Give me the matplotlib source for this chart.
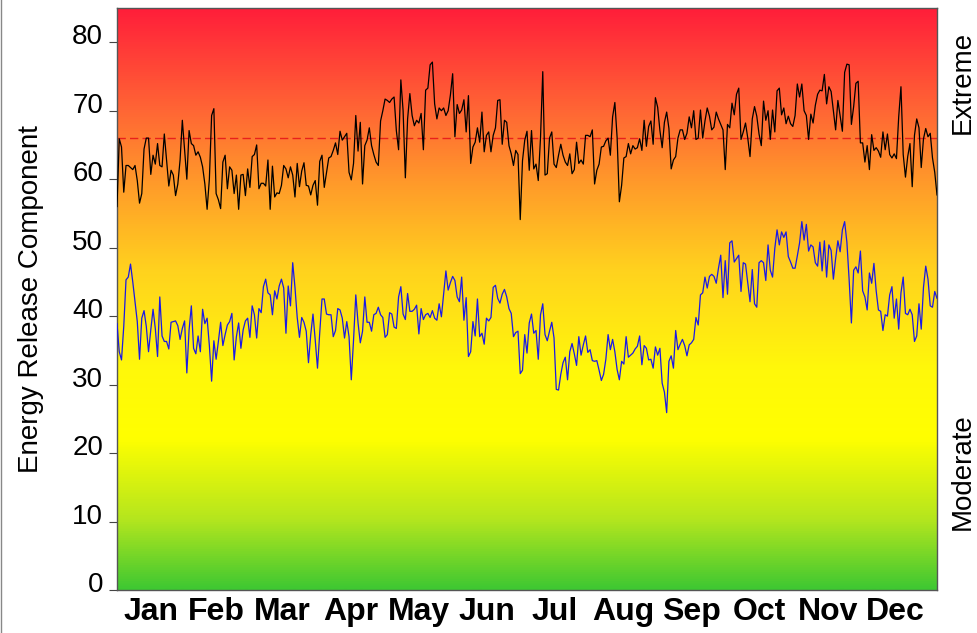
import numpy as np
import matplotlib
matplotlib.use("Agg")
import matplotlib.pyplot as plt
import matplotlib.transforms as mtrans
from matplotlib.colors import LinearSegmentedColormap
from matplotlib.lines import Line2D

# daily values, Jan 1 .. Dec 31
erc_black = [
    56, 65.9, 64.7, 58.1, 62, 62, 61.7, 61.4, 62, 59.8, 56.5, 57.9, 64.4, 66, 66, 60.7,
    63.5, 62.2, 65.2, 62, 61.8, 66.6, 62.8, 59, 61.3, 60.6, 57.6, 59.3, 62.8, 68.6, 64.2, 60,
    67.1, 65.2, 64.9, 63.5, 64, 63.2, 61.8, 59.3, 55.6, 60, 69.3, 70.3, 57.9, 57, 55.7, 62.5,
    63.5, 58.6, 61.8, 61.3, 57.9, 60.6, 55.6, 60.6, 60.7, 57.6, 61.5, 58.8, 63.3, 63.6,
    65, 58.6, 59.4, 59.4, 59, 62.8, 55.6, 61.9, 57.4, 58, 57.9, 59.1, 62, 61.5, 60.2, 61.8,
    60.6, 57.4, 62.3, 58.9, 61.2, 62.4, 59.1, 59, 57.7, 59.1, 59.8, 56.2, 62.6, 63.5, 58.8, 61,
    63.1, 63.3, 64.2, 65.3, 63.6, 67, 65.7, 66.2, 66.7, 61, 59.9, 62.3, 69.3, 64.1, 68.3, 59.3,
    64.9, 65.7, 67.5, 64.9, 63.6, 62.5, 62, 68.5, 70, 71.7, 71.5, 71.2, 71.7,
    72, 67.1, 64.3, 74.5, 70, 60.2, 68.8, 72.5, 69.3, 67.8, 68.6, 68.2, 69.6, 64.3, 73, 73.3,
    76.7, 77.1, 71, 68.8, 70.4, 70, 70.4, 69.3, 70, 72.3, 75.4, 66.2, 70.9, 69.6, 70.1, 71.6,
    66.9, 72.2, 62.3, 64.7, 65.4, 67.5, 65.4, 69.8, 64, 66.4, 66.9, 64, 66.4, 67.5, 71.5, 71.6,
    65.1, 68.6, 68.3, 64.9, 63.7, 62, 64.2, 63.6, 54.1, 62.7, 65.7, 67, 61.3,
    67.1, 61.5, 62.2, 59.8, 66.1, 75.7, 60.6, 60.8, 66, 66.9, 62.2, 61.7, 63.5, 65.1, 63.5, 62.5,
    62, 63.7, 60.8, 61.4, 65.4, 62.3, 62.8, 62.2, 66.4, 66.4, 66.2, 67.2, 59.3, 61.3, 62.2, 64.7,
    64.8, 65.6, 66, 63.5, 69.1, 71.2, 66.1, 56.7, 59.1, 63.1, 63.3, 65.2, 63.7, 64.9, 64.4, 64.6,
    65.9, 64.2, 68.6, 64.8, 67.7, 68.5, 65.1, 71.9, 70.5, 67.1, 64.6, 68.3, 69.8,
    67.4, 61.5, 62.8, 63.3, 66, 67.2, 67.2, 65.8, 66.7, 69.1, 67.5, 70, 65.8, 66, 70.1, 66,
    68.5, 70.4, 69.2, 67.2, 67.6, 69.8, 68.8, 68, 67.2, 61.4, 68, 67.5, 71.1, 69.4, 72.4, 73.3,
    65.8, 66.9, 68.2, 66, 63.3, 68.8, 70.6, 69.2, 66.6, 64.9, 71.4, 68.6, 70, 65.8, 70.1, 66.9,
    72.9, 73.3, 69.4, 70.4, 68.1, 69.2, 68.1, 67.7, 69.3, 73.9, 72, 73.9, 70, 69.3,
    65.8, 69.5, 68.2, 70.8, 72.4, 73, 72.9, 75.3, 71, 73.5, 72.8, 70, 67.2, 71.5, 69.3, 67,
    75.6, 76.8, 76.7, 68, 70.6, 74, 74.3, 65.3, 65.3, 62.5, 64.9, 61.4, 66.5, 64.2, 64.6, 64.1,
    63.2, 66.9, 64.3, 66.6, 63.6, 63.1, 63.7, 63, 69.1, 73.5, 63.6, 60.3, 63.3, 65.2, 58.9, 66.4,
    68.8, 67.5, 61.7, 65.9, 67.4, 66.2, 66.7, 63.1, 61, 57.7,
]

erc_blue = [
    38.9, 34.8, 33.6, 38.5, 45.3, 45.7, 47.6, 45, 42.1, 39.2, 33.7, 39.7, 40.8, 38.5, 34.8, 38,
    41, 38.2, 34.1, 42.8, 37.1, 36.3, 36.3, 35.2, 39.1, 39.2, 39.3, 38.6, 36.6, 38.2, 39.3, 31.7,
    38, 41.5, 35.3, 34.5, 37.1, 34.8, 41, 38.9, 39.7, 35.7, 30.5, 36.4, 33.7, 36.3, 39.1, 35.7,
    37.3, 38.7, 39.2, 40.4, 33.6, 37, 39, 35.3, 38, 39.3, 39.7, 36.9, 41.5, 40.2,
    36.8, 41.1, 40.5, 44.3, 45.4, 43.4, 43.1, 40.2, 43.7, 42.5, 44.4, 45.4, 44.1, 37.5, 44.4, 41.5,
    47.8, 44.2, 39.8, 36.9, 39.8, 39.1, 37.8, 33.2, 37.3, 40.3, 36.5, 32.4, 37.6, 42.5, 42.5, 40.3,
    40.2, 40.2, 37, 37.9, 41.1, 40.9, 39.7, 36.8, 39.2, 37, 30.7, 36.5, 43.1, 39, 36.1, 37.8,
    42.8, 39.1, 39.1, 37.8, 40.2, 40.4, 41.3, 40.2, 39.8, 36.9, 37.3, 40.5, 40.3,
    38.4, 38.2, 42.8, 44.3, 40.3, 39.5, 43.3, 40.7, 40.7, 41, 41.6, 37.4, 41.1, 39.5, 40.2, 40.4,
    39.8, 40.8, 39.7, 39.4, 41.8, 39.9, 43.3, 46.6, 43.8, 44.9, 45.8, 45.2, 42.8, 42.1, 45.7, 39.4,
    42.7, 34.1, 34.8, 39.2, 37.1, 42.5, 37, 37.5, 35.9, 39.7, 39.3, 39.8, 44.2, 44.5, 42.6, 41.9,
    43.2, 43.9, 42.8, 41.1, 40.4, 37, 37.6, 37.8, 31.6, 32.1, 37.3, 34.6, 39,
    40.3, 37.5, 37.9, 33.7, 40.2, 41.8, 37.3, 36.4, 37.8, 39.1, 36.8, 29.3, 29.2, 31.5, 33.2, 34,
    30.7, 34.8, 36, 34.5, 32.8, 37, 34.3, 35.8, 37.1, 34.7, 35.1, 33.5, 33.4, 33.5, 32.1, 30.6,
    31.5, 33.7, 37.3, 35.1, 36.6, 34.8, 32.2, 30.7, 33.4, 33, 37, 34, 34.3, 34.6, 35.2, 35.6,
    37.1, 32.9, 35.7, 35.3, 33.6, 33.7, 32.4, 35.5, 34.3, 35.3, 30.2, 28.9, 25.9,
    33.4, 34.2, 32.4, 37.9, 35.1, 35.9, 36.6, 35.7, 34.2, 35.8, 36.1, 36.6, 39.8, 38.7, 43.1, 43.4,
    45.7, 44.1, 45.8, 46.1, 45.8, 44.8, 47, 48.9, 42.7, 48.1, 43.2, 50.7, 51, 47.9, 48.4, 48.9,
    43.6, 47.8, 47.6, 44.8, 42.1, 46.8, 41.8, 41.3, 47.8, 48.1, 47.8, 45.2, 50.4, 46.7, 45.7, 49.9,
    52.6, 50.4, 52.3, 51.5, 52.3, 48.7, 47.9, 47, 47, 48.8, 50.7, 53.8, 51.1, 53.4,
    49.5, 50.4, 50.1, 47.8, 47.3, 50.8, 46.6, 51, 45.7, 50.4, 49.6, 45.4, 48.4, 51, 49.4, 52.6,
    53.8, 50.8, 45.3, 39, 46.7, 47.2, 46.3, 49.5, 43.7, 42.8, 40.9, 46.3, 44.8, 47.7, 43.7, 40.9,
    40.7, 37.9, 40.2, 40, 43.1, 44.3, 39.7, 42.5, 38.1, 43.4, 45.7, 40.4, 40.2, 41, 40.2, 36.3,
    37.1, 41.8, 38.1, 44.2, 47.3, 45.4, 41.5, 41.3, 43.6, 42.6,
]

extreme_level = 66
months = ["Jan", "Feb", "Mar", "Apr", "May", "Jun", "Jul", "Aug", "Sep", "Oct", "Nov", "Dec"]
month_days = [31, 28, 31, 30, 31, 30, 31, 31, 30, 31, 30, 31]

plt.rcParams['font.family'] = ['Liberation Sans', 'DejaVu Sans']

days = np.arange(len(erc_black))
ymax = 85

fig = plt.figure(figsize=(9.78, 6.33), dpi=100)
ax = fig.add_axes([117 / 978, 43 / 633, 820 / 978, 582 / 633])

# background gradient green -> yellow -> orange -> red
cmap = LinearSegmentedColormap.from_list("erc", [
    (0.00, "#3ec832"),
    (0.12, "#b4e61e"),
    (0.26, "#ffff00"),
    (0.38, "#fff80a"),
    (0.55, "#ffd21e"),
    (0.70, "#ff9a2a"),
    (0.82, "#ff6834"),
    (1.00, "#ff1e3a"),
])
grad = np.linspace(0, 1, 512).reshape(-1, 1)
ax.imshow(grad, cmap=cmap, origin="lower", aspect="auto",
          extent=[0, len(days) - 1, 0, ymax], zorder=0)

ax.axhline(extreme_level, color="#e8201c", lw=1, dashes=(6, 3), zorder=2)
ax.plot(days, erc_black, color="black", lw=0.9, zorder=3)
ax.plot(days, erc_blue, color="#1a1ae6", lw=0.9, zorder=3)

ax.set_xlim(0, len(days) - 1)
ax.set_ylim(0, ymax)

ax.set_yticks(range(0, 81, 10))
ax.tick_params(axis="y", labelsize=20, length=6, direction="out", color="#444444", pad=4)
# labels sit a little above their tick marks in the original
for lbl in ax.get_yticklabels():
    lbl.set_transform(lbl.get_transform() + mtrans.ScaledTranslation(0, 8 / 100, fig.dpi_scale_trans))
ax.set_ylabel("Energy Release Component", fontsize=20, labelpad=20)

starts = np.cumsum([0] + month_days[:-1])
centers = starts + np.array(month_days) / 2
ax.set_xticks(centers)
ax.set_xticklabels(months, fontsize=23, fontweight="bold")
ax.tick_params(axis="x", length=0, pad=5)
for i, lbl in enumerate(ax.get_xticklabels()):
    dx = -(1 + i * 0.7) / 100
    lbl.set_transform(lbl.get_transform() + mtrans.ScaledTranslation(dx, 0, fig.dpi_scale_trans))

for s in ax.spines.values():
    s.set_color("#555555")
    s.set_linewidth(1)

fig.text(0.984, 0.87, "Extreme", rotation=90, fontsize=20, ha="center", va="center")
fig.text(0.984, 0.255, "Moderate", rotation=90, fontsize=20, ha="center", va="center")

# thin frame line on the left edge of the image
fig.add_artist(Line2D([0.001, 0.001], [0, 1], transform=fig.transFigure, color="#888888", lw=1))

fig.savefig("out.png", dpi=100)
